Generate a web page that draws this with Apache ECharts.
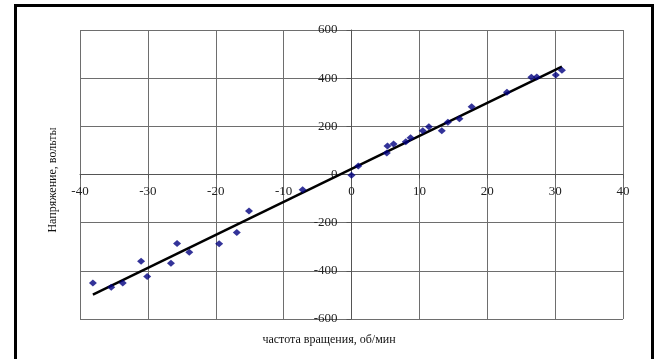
<!DOCTYPE html>
<html>
<head>
<meta charset="utf-8">
<script src="https://cdn.jsdelivr.net/npm/echarts@6/dist/echarts.min.js"></script>
<style>
html,body{margin:0;padding:0;background:#fff;}
#c{width:658px;height:359px;}
</style>
</head>
<body>
<div id="c"></div>
<script>
// Data
var speedX = [-38.1, -35.4, -33.7, -31.0, -30.1, -26.6, -25.7, -23.9, -19.5, -16.9, -15.1, -7.2, 0.0, 1.0, 5.2, 5.3, 6.2, 8.0, 8.7, 10.5, 11.4, 13.3, 14.2, 15.9, 17.7, 22.9, 26.5, 27.3, 30.1, 31.0];
var voltageY = [-451, -468, -450, -360, -424, -368, -286, -323, -288, -241, -152, -63, -3, 35, 89, 118, 127, 136, 153, 182, 198, 182, 217, 232, 281, 342, 404, 405, 413, 433];
var trendX = [-38.1, 31.0];
var trendY = [-499, 448];
var xTitle = 'частота вращения, об/мин';
var yTitle = 'Напряжение, вольты';

var scatterData = speedX.map(function (x, i) { return [x, voltageY[i]]; });
var trendData = trendX.map(function (x, i) { return [x, trendY[i]]; });

var font = 'Liberation Serif, Times New Roman, serif';
var gridL = 80, gridR = 35, gridT = 30, gridB = 40;
var W = 658, H = 359;
var plotW = W - gridL - gridR, plotH = H - gridT - gridB;

var chart = echarts.init(document.getElementById('c'), null, {renderer: 'canvas'});
chart.setOption({
  backgroundColor: '#fff',
  animation: false,
  grid: {left: gridL, right: gridR, top: gridT, bottom: gridB, show: false},
  xAxis: {
    type: 'value', min: -40, max: 40, interval: 10, position: 'bottom',
    offset: -plotH / 2,
    axisLine: {show: true, onZero: false, lineStyle: {color: '#555', width: 1}},
    axisTick: {show: true, length: 4, lineStyle: {color: '#555'}},
    axisLabel: {color: '#222', fontFamily: font, fontSize: 13, margin: 11},
    splitLine: {show: true, lineStyle: {color: '#6e6e6e', width: 1}}
  },
  yAxis: {
    type: 'value', min: -600, max: 600, interval: 200, position: 'left',
    offset: -plotW / 2,
    axisLine: {show: true, onZero: false, lineStyle: {color: '#555', width: 1}},
    axisTick: {show: true, length: 5, lineStyle: {color: '#555'}},
    axisLabel: {color: '#222', fontFamily: font, fontSize: 13, margin: 14},
    splitLine: {show: true, lineStyle: {color: '#6e6e6e', width: 1}}
  },
  series: [
    {
      type: 'line', data: trendData, symbol: 'none', z: 3,
      lineStyle: {color: '#000', width: 2.5}
    },
    {
      type: 'scatter', data: scatterData, symbol: 'diamond', symbolSize: [8, 7], z: 4,
      itemStyle: {color: '#000080'}
    }
  ],
  graphic: [
    {type: 'rect', shape: {x: 15.5, y: 5.5, width: 637, height: 370}, style: {fill: 'none', stroke: '#000', lineWidth: 3}, z: 10},
    {type: 'text', left: 'center', top: 334, style: {text: xTitle, font: '12px ' + font, fill: '#111'}},
    {type: 'text', x: 53, y: 180, rotation: Math.PI / 2, style: {text: yTitle, font: '12px ' + font, fill: '#111', align: 'center', verticalAlign: 'middle'}}
  ]
});
</script>
</body>
</html>
